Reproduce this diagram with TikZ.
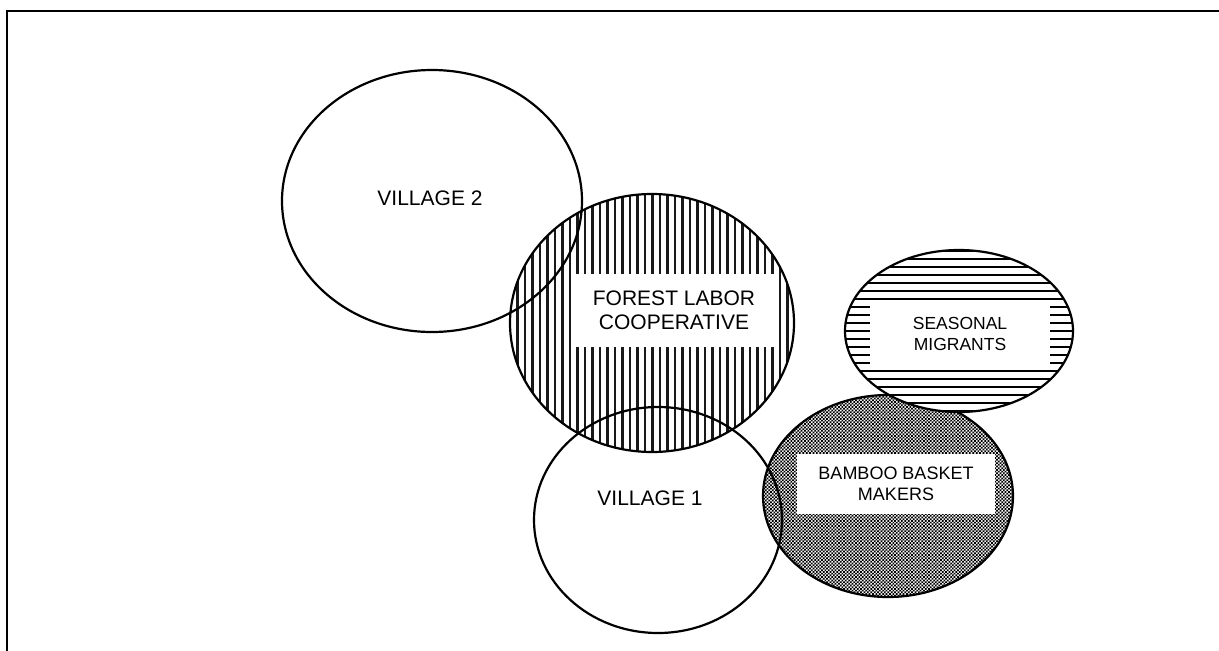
\documentclass[tikz,border=0pt]{standalone}
\usepackage{fontspec}
\setmainfont{Liberation Sans}
\usepackage{tikz}
\usetikzlibrary{positioning,shapes.geometric,patterns,patterns.meta}

\pgfdeclarepatternformonly{fine checker}{\pgfqpoint{-.1pt}{-.1pt}}{\pgfqpoint{3.5pt}{3.5pt}}{\pgfqpoint{3.4pt}{3.4pt}}{%
  \pgfpathrectangle{\pgfqpoint{0pt}{0pt}}{\pgfqpoint{1.7pt}{1.7pt}}%
  \pgfpathrectangle{\pgfqpoint{1.7pt}{1.7pt}}{\pgfqpoint{1.7pt}{1.7pt}}%
  \pgfusepath{fill}}

\begin{document}
\begin{tikzpicture}[x=1pt,y=-1pt,
  group/.style={ellipse,draw,line width=2.2pt,inner sep=0pt,outer sep=0pt},
  tag/.style={fill=white,align=center,inner sep=0pt,font=\fontsize{21}{24}\selectfont},
  small tag/.style={tag,font=\fontsize{17.5}{21}\selectfont}]
\useasboundingbox (0,0) rectangle (1219,651);

% frame
\draw[line width=2.8pt] (1219,11) -- (7,11) -- (7,651);

% groups with hatching
\node[group,minimum width=284pt,minimum height=258pt,
      pattern={Lines[angle=90,distance=7.5pt,line width=2.2pt]},pattern color=black!90] (forest) at (652,323) {};
\node[group,minimum width=250pt,minimum height=202pt,
      pattern=fine checker,pattern color=black] (bamboo) at (888,496) {};
\node[group,minimum width=228pt,minimum height=162pt,preaction={fill=white},
      pattern={Lines[angle=0,distance=8pt,line width=2pt]},pattern color=black] (seasonal) at (959,331) {};

% villages
\node[group,minimum width=300pt,minimum height=262pt] (v2) at (432,201) {};
\node[group,minimum width=248pt,minimum height=226pt] (v1) at (658,520) {};

% labels
\node[tag] (v2lbl) at (430,198) {VILLAGE 2};
\node[tag] (v1lbl) at (650,498) {VILLAGE 1};
\node[tag,minimum width=203pt,minimum height=73pt] (forestlbl) at (674,310) {FOREST LABOR\\COOPERATIVE};
\node[small tag,minimum width=180pt,minimum height=67pt] (seasonallbl) at (960,334) {SEASONAL\\MIGRANTS};
\node[small tag,font=\fontsize{18}{21}\selectfont,minimum width=198pt,minimum height=60pt] (bamboolbl) at (896,484) {BAMBOO BASKET\\MAKERS};
\end{tikzpicture}
\end{document}
